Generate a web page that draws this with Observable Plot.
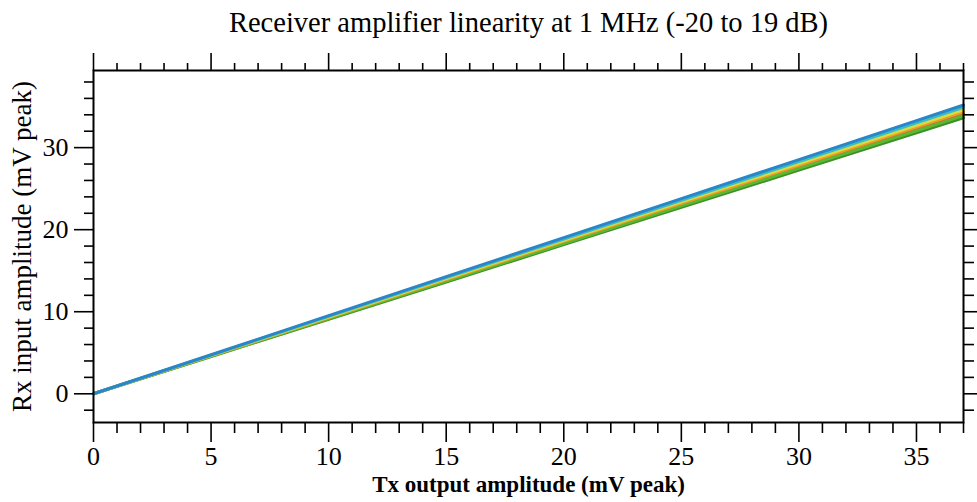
<!DOCTYPE html>
<html>
<head>
<meta charset="utf-8">
<script src="https://cdn.jsdelivr.net/npm/d3@7"></script>
<script src="https://cdn.jsdelivr.net/npm/@observablehq/plot@0.6"></script>
<style>
  html, body { margin: 0; padding: 0; background: #fff; }
</style>
</head>
<body>
<div id="chart"></div>
<script>
// Tx output amplitude (mV peak)
const tx = [0, 5, 10, 15, 20, 25, 30, 35, 37];
// Rx input amplitude (mV peak) for several gain settings
const rxBlue      = [0, 4.76, 9.52, 14.27, 19.03, 23.78, 28.54, 33.30, 35.20];
const rxCyan      = [0, 4.72, 9.44, 14.15, 18.87, 23.58, 28.30, 33.01, 34.90];
const rxYellow    = [0, 4.68, 9.36, 14.03, 18.71, 23.38, 28.06, 32.73, 34.60];
const rxOrange    = [0, 4.65, 9.29, 13.93, 18.57, 23.21, 27.85, 32.49, 34.35];
const rxRed       = [0, 4.62, 9.23, 13.84, 18.45, 23.06, 27.67, 32.28, 34.12];
const rxGreen     = [0, 4.58, 9.16, 13.74, 18.32, 22.90, 27.48, 32.06, 33.90];
const rxDarkGreen = [0, 4.55, 9.09, 13.63, 18.17, 22.71, 27.25, 31.79, 33.62];

const seriesNames = ["Set A", "Set B", "Set C", "Set D", "Set E", "Set F", "Set G"];
const seriesValues = [rxDarkGreen, rxRed, rxGreen, rxOrange, rxYellow, rxCyan, rxBlue];
const seriesColors = ["#3d8f2a", "#e0622a", "#5cb830", "#ee9a30", "#d9dc3a", "#36bccc", "#2a86c8"];

const titleText = "Receiver amplifier linearity at 1 MHz (-20 to 19 dB)";
const xTitle = "Tx output amplitude (mV peak)";
const yTitle = "Rx input amplitude (mV peak)";

const xMajor = [0, 5, 10, 15, 20, 25, 30, 35];
const xMinor = d3.range(0, 38, 1).filter(v => v % 5 !== 0);
const yMajor = [0, 10, 20, 30];
const yMinor = [-2, 2, 4, 6, 8, 12, 14, 16, 18, 22, 24, 26, 28, 32, 34, 36, 38];

const rows = [];
seriesNames.forEach((name, i) => {
  tx.forEach((x, j) => rows.push({series: name, tx: x, rx: seriesValues[i][j]}));
});

const serif = "'Liberation Serif', 'DejaVu Serif', serif";

const chart = Plot.plot({
  width: 977,
  height: 502,
  marginTop: 70,
  marginBottom: 80,
  marginLeft: 93,
  marginRight: 14,
  style: { fontFamily: serif, background: "#fff", color: "#000" },
  x: { domain: [0, 37] },
  y: { domain: [-3.5, 39.4] },
  color: { type: "ordinal", domain: seriesNames, range: seriesColors },
  marks: [
    Plot.line(rows, { x: "tx", y: "rx", z: "series", stroke: "series", strokeWidth: 3 }),
    // bottom axis
    Plot.axisX({ anchor: "bottom", ticks: xMajor, tickSize: 20, tickPadding: 4, fontSize: 26, label: null, strokeWidth: 1.6, tickFormat: d3.format("d") }),
    Plot.axisX({ anchor: "bottom", ticks: xMinor, tickSize: 11, text: null, label: null, strokeWidth: 1.6 }),
    // top axis
    Plot.axisX({ anchor: "top", ticks: xMajor, tickSize: 18, text: null, label: null, strokeWidth: 1.6 }),
    Plot.axisX({ anchor: "top", ticks: xMinor, tickSize: 8, text: null, label: null, strokeWidth: 1.6 }),
    // left axis
    Plot.axisY({ anchor: "left", ticks: yMajor, tickSize: 19, tickPadding: 6, fontSize: 26, label: null, strokeWidth: 1.6, tickFormat: d3.format("d") }),
    Plot.axisY({ anchor: "left", ticks: yMinor, tickSize: 9, text: null, label: null, strokeWidth: 1.6 }),
    // right axis
    Plot.axisY({ anchor: "right", ticks: yMajor, tickSize: 14, text: null, label: null, strokeWidth: 1.6 }),
    Plot.axisY({ anchor: "right", ticks: yMinor, tickSize: 10, text: null, label: null, strokeWidth: 1.6 }),
    Plot.frame({ stroke: "#000", strokeWidth: 2 }),
    // titles
    Plot.text([titleText], { text: d => d, frameAnchor: "top", textAnchor: "middle", dy: -48, lineAnchor: "middle", fontSize: 28.5, fill: "#000" }),
    Plot.text([xTitle], { text: d => d, frameAnchor: "bottom", textAnchor: "middle", dy: 62, lineAnchor: "middle", fontSize: 23, fontWeight: "bold", fill: "#000" }),
    Plot.text([yTitle], { text: d => d, frameAnchor: "left", textAnchor: "middle", dx: -71, rotate: -90, lineAnchor: "middle", fontSize: 27, fill: "#000" })
  ]
});

document.getElementById("chart").appendChild(chart);
</script>
</body>
</html>
